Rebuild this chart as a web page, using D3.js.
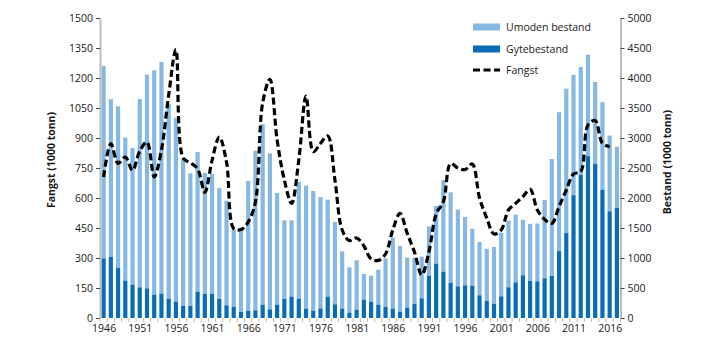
<!DOCTYPE html>
<html><head><meta charset="utf-8">
<script src="https://cdnjs.cloudflare.com/ajax/libs/d3/7.8.5/d3.min.js"></script>
<style>
html,body{margin:0;padding:0;background:#fff;}
text{font-family:"Open Sans",sans-serif;fill:#1a1a1a;}
</style></head>
<body><svg id="c" width="719" height="362"></svg>
<script>
const years = d3.range(1946, 2018);
const gytebestand = [994,1017,833,622,556,511,494,389,406,322,272,200,200,439,400,400,317,211,189,100,117,128,222,144,222,317,356,317,156,122,161,356,228,156,89,139,306,272,222,183,156,106,172,233,328,706,906,772,589,528,544,539,378,283,233,361,511,594,711,617,611,661,700,1115,1415,2047,2386,2697,2570,2136,1778,1836];
const totalBestand = [4200,3645,3528,3006,2833,3650,4056,4128,4267,3567,3339,2650,2411,2767,2417,2400,2167,1956,1480,1480,2283,2789,3228,2744,2083,1628,1628,2272,2206,2117,2017,1972,1600,1111,844,961,733,706,806,994,1339,1200,1006,1006,1022,1528,1867,2300,2094,1806,1683,1489,1267,1152,1183,1420,1625,1722,1636,1570,1575,1967,2650,3430,3822,4052,4183,4388,3933,3597,3041,2853];
const umodenBestand = totalBestand.map((t,i)=>t - gytebestand[i]);
const fangst = [705,872,773,805,738,835,880,705,840,1115,1342,800,776,746,628,788,905,780,447,442,480,580,1076,1193,890,690,573,790,1110,832,873,910,690,440,387,400,360,295,288,320,440,523,423,330,215,330,520,582,772,750,742,770,600,500,420,440,540,573,607,643,540,493,473,557,640,720,732,965,987,873,857,null];
const leftTicks = d3.range(0, 1501, 150);
const rightTicks = d3.range(0, 5001, 500);
const xLabels = d3.range(1946, 2017, 5);
const seriesNames = ["Umoden bestand","Gytebestand","Fangst"];

const lightC = "#86b8e2", darkC = "#0a6cb4";
const svg = d3.select("#c");
const x0 = 100, x1 = 620.5, yTop = 18, yBot = 318;
const x = d3.scaleBand().domain(years).range([x0, x1]).paddingInner(0.42).paddingOuter(0.21);
const yL = d3.scaleLinear().domain([0,1500]).range([yBot, yTop]);
const yR = d3.scaleLinear().domain([0,5000]).range([yBot, yTop]);
const fmt = d3.format("d");

// bars
const g = svg.append("g");
years.forEach((yr,i)=>{
  g.append("rect").attr("x", x(yr)).attr("width", x.bandwidth())
    .attr("y", yR(gytebestand[i] + umodenBestand[i])).attr("height", yR(gytebestand[i]) - yR(gytebestand[i] + umodenBestand[i]))
    .attr("fill", lightC);
  g.append("rect").attr("x", x(yr)).attr("width", x.bandwidth())
    .attr("y", yR(gytebestand[i])).attr("height", yBot - yR(gytebestand[i]))
    .attr("fill", darkC);
});

// left axis
const la = svg.append("g").attr("transform",`translate(${x0},0)`)
  .call(d3.axisLeft(yL).tickValues(leftTicks).tickFormat(fmt).tickSize(4).tickPadding(3).tickSizeOuter(0));
la.select(".domain").attr("stroke","#bdbdbd").attr("stroke-width",2);
la.selectAll(".tick line").attr("stroke","#444");
la.selectAll("text").style("font-size","10.5px").attr("fill","#1a1a1a");

// right axis
const ra = svg.append("g").attr("transform",`translate(${x1},0)`)
  .call(d3.axisRight(yR).tickValues(rightTicks).tickFormat(fmt).tickSize(4).tickPadding(3).tickSizeOuter(0));
ra.select(".domain").attr("stroke","#bdbdbd").attr("stroke-width",2);
ra.selectAll(".tick line").attr("stroke","#444");
ra.selectAll("text").style("font-size","10.5px").attr("fill","#1a1a1a");

// x axis
const xl = d3.scaleLinear().domain([1946,2017]).range([x(1946)+x.bandwidth()/2, x(2017)+x.bandwidth()/2]);
const xa = svg.append("g").attr("transform",`translate(0,${yBot})`);
years.forEach(yr=>{
  const bx = x(yr) - x.step()*x.paddingInner()/2;
  xa.append("line").attr("x1",bx).attr("x2",bx).attr("y1",0).attr("y2",4).attr("stroke","#bdbdbd").attr("stroke-width",1);
});
xa.append("line").attr("x1",x1).attr("x2",x1).attr("y1",0).attr("y2",4).attr("stroke","#bdbdbd");
const xAxis = d3.axisBottom(xl).tickValues(xLabels).tickFormat(fmt).tickSize(0).tickPadding(7);
const xa2 = svg.append("g").attr("transform",`translate(0,${yBot})`).call(xAxis);
xa2.select(".domain").remove();
xa2.selectAll("text").style("font-size","10.5px").attr("fill","#1a1a1a");

// line
const pts = years.map((yr,i)=>[yr, fangst[i]]).filter(d=>d[1]!=null);
const line = d3.line().x(d=>x(d[0])+x.bandwidth()/2).y(d=>yL(d[1])).curve(d3.curveCatmullRom.alpha(0.5));
svg.append("path").attr("d", line(pts)).attr("fill","none").attr("stroke","#000")
  .attr("stroke-width",3.2).attr("stroke-dasharray","7,3.5");

// titles
svg.append("text").attr("transform","translate(55,160) rotate(-90)").attr("text-anchor","middle")
  .style("font-size","10.5px").style("font-weight","bold").text("Fangst (1000 tonn)");
svg.append("text").attr("transform","translate(671,162) rotate(-90)").attr("text-anchor","middle")
  .style("font-size","10.5px").style("font-weight","bold").text("Bestand (1000 tonn)");

// legend
const lg = svg.append("g");
const ly = [27, 49, 70];
lg.append("rect").attr("x",473).attr("y",ly[0]-3.5).attr("width",27).attr("height",7).attr("fill",lightC);
lg.append("rect").attr("x",473).attr("y",ly[1]-3.5).attr("width",27).attr("height",7).attr("fill",darkC);
lg.append("line").attr("x1",473).attr("x2",500).attr("y1",ly[2]).attr("y2",ly[2]).attr("stroke","#000").attr("stroke-width",3.2).attr("stroke-dasharray","7,3.5");
seriesNames.forEach((n,i)=>{
  lg.append("text").attr("x",506).attr("y",ly[i]).attr("dy","0.35em").style("font-size","10.5px").text(n);
});
</script></body></html>
